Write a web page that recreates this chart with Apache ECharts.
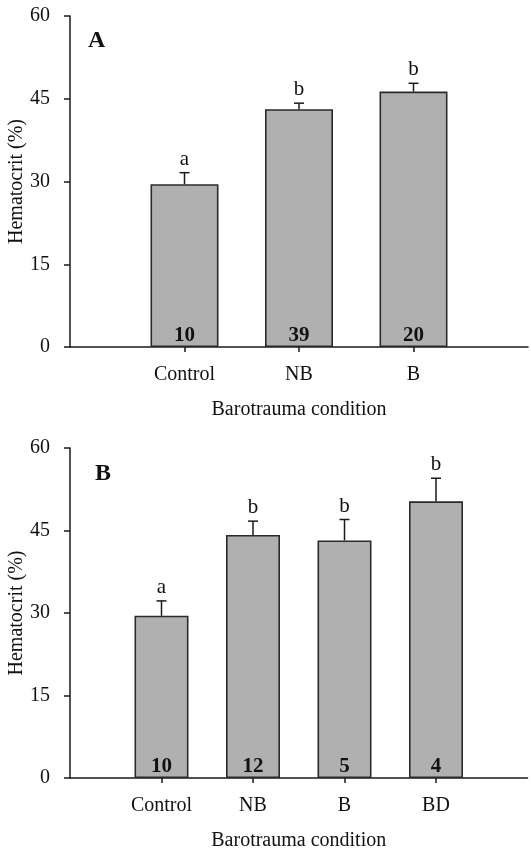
<!DOCTYPE html>
<html><head><meta charset="utf-8">
<script src="https://cdn.jsdelivr.net/npm/echarts@6/dist/echarts.min.js"></script>
<style>html,body{margin:0;padding:0;background:#fff}#c{width:531px;height:852px}</style>
</head><body><div id="c"></div>
<script>
const catsA = ['Control', 'NB', 'B'];
const meanA = [29.5, 43.1, 46.3];
const errA = [2.1, 1.1, 1.5];
const nA = [10, 39, 20];
const letA = ['a', 'b', 'b'];

const catsB = ['Control', 'NB', 'B', 'BD'];
const meanB = [29.5, 44.2, 43.2, 50.3];
const errB = [2.7, 2.5, 3.8, 4.2];
const nB = [10, 12, 5, 4];
const letB = ['a', 'b', 'b', 'b'];

const yMin = 0, yMax = 60, yStep = 15;
const yTitle = 'Hematocrit (%)';
const xTitle = 'Barotrauma condition';
const panelA = 'A', panelB = 'B';

const FONT = '"Liberation Serif", "Times New Roman", serif';
const INK = '#111';
const AXIS = '#1a1a1a';

function xAxisFor(cats, gi) {
  return {
    type: 'category', gridIndex: gi, boundaryGap: false,
    data: [''].concat(cats, ['']),
    axisLine: { lineStyle: { color: AXIS, width: 1.5 } },
    axisTick: { alignWithLabel: true, length: 5, lineStyle: { color: AXIS, width: 1.5 },
      interval: function (i, v) { return v !== ''; } },
    axisLabel: { interval: 0, margin: 18, color: INK, fontFamily: FONT, fontSize: 20 },
    name: xTitle, nameLocation: 'middle', nameGap: 53, nameMoveOverlap: false,
    nameTextStyle: { color: INK, fontFamily: FONT, fontSize: 20 }
  };
}
function yAxisFor(gi) {
  return {
    type: 'value', gridIndex: gi, min: yMin, max: yMax, interval: yStep,
    axisLine: { show: true, lineStyle: { color: AXIS, width: 1.5 } },
    axisTick: { show: true, length: 6, lineStyle: { color: AXIS, width: 1.5 } },
    axisLabel: { margin: 20, color: INK, fontFamily: FONT, fontSize: 20 },
    splitLine: { show: false },
    name: yTitle, nameLocation: 'middle', nameGap: 43, nameRotate: 90, nameMoveOverlap: false,
    nameTextStyle: { color: INK, fontFamily: FONT, fontSize: 20 }
  };
}
function barSeries(means, ns, gi, bw) {
  return {
    type: 'bar', xAxisIndex: gi, yAxisIndex: gi, barWidth: bw,
    data: [null].concat(means, [null]),
    itemStyle: { color: '#b0b0b0', borderColor: '#2a2a2a', borderWidth: 1.6 },
    label: {
      show: true, position: 'insideBottom', distance: 1,
      color: INK, fontFamily: FONT, fontSize: 21, fontWeight: 'bold',
      formatter: function (p) { return ns[p.dataIndex - 1]; }
    },
    silent: true, animation: false
  };
}
function errSeries(means, errs, lets, gi, capW) {
  return {
    type: 'custom', xAxisIndex: gi, yAxisIndex: gi, z: 5, animation: false, silent: true,
    data: means.map(function (m, i) { return [i + 1, m, errs[i]]; }),
    renderItem: function (params, api) {
      const i = params.dataIndex;
      const idx = api.value(0), m = api.value(1), e = api.value(2);
      const p0 = api.coord([idx, m]);
      const p1 = api.coord([idx, m + e]);
      const st = { stroke: AXIS, lineWidth: 1.5 };
      return {
        type: 'group', children: [
          { type: 'line', shape: { x1: p0[0], y1: p0[1], x2: p1[0], y2: p1[1] }, style: st },
          { type: 'line', shape: { x1: p1[0] - capW / 2, y1: p1[1], x2: p1[0] + capW / 2, y2: p1[1] }, style: st },
          { type: 'text', x: p1[0], y: p1[1] - 3,
            style: { text: lets[i], fill: INK, font: '21px ' + FONT, align: 'center', verticalAlign: 'bottom' } }
        ]
      };
    }
  };
}

const chart = echarts.init(document.getElementById('c'), null, { renderer: 'canvas' });
chart.setOption({
  animation: false,
  backgroundColor: '#fff',
  grid: [
    { left: 70, top: 16, right: 3, height: 331, outerBoundsMode: 'none', containLabel: false },
    { left: 70, top: 448, right: 3.5, height: 330, outerBoundsMode: 'none', containLabel: false }
  ],
  xAxis: [xAxisFor(catsA, 0), xAxisFor(catsB, 1)],
  yAxis: [yAxisFor(0), yAxisFor(1)],
  graphic: [
    { type: 'text', x: 88, y: 41, style: { text: panelA, fill: INK, font: 'bold 24px ' + FONT, verticalAlign: 'middle' } },
    { type: 'text', x: 95, y: 474, style: { text: panelB, fill: INK, font: 'bold 24px ' + FONT, verticalAlign: 'middle' } }
  ],
  series: [
    barSeries(meanA, nA, 0, 68),
    errSeries(meanA, errA, letA, 0, 10),
    barSeries(meanB, nB, 1, 54),
    errSeries(meanB, errB, letB, 1, 10)
  ]
});
</script></body></html>
